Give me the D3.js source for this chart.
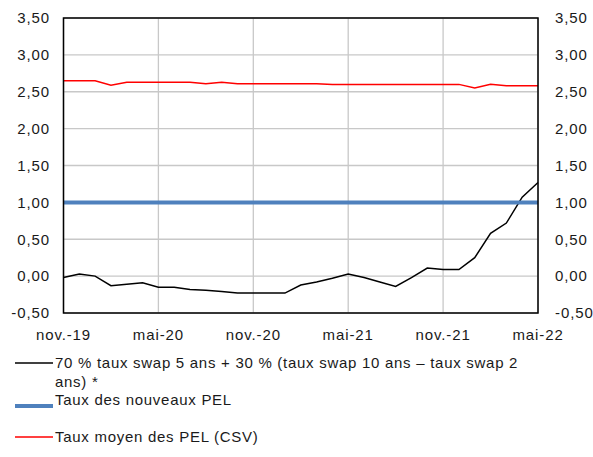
<!DOCTYPE html>
<html><head><meta charset="utf-8">
<script src="https://cdn.jsdelivr.net/npm/d3@7"></script>
<style>
html,body{margin:0;padding:0;background:#fff;}
text{font-family:"Liberation Sans",Arial,sans-serif;}
</style></head>
<body>
<svg id="c" width="593" height="457"></svg>
<script>
const months = ["nov.-19","déc.-19","janv.-20","févr.-20","mars-20","avr.-20","mai-20","juin-20","juil.-20","août-20","sept.-20","oct.-20","nov.-20","déc.-20","janv.-21","févr.-21","mars-21","avr.-21","mai-21","juin-21","juil.-21","août-21","sept.-21","oct.-21","nov.-21","déc.-21","janv.-22","févr.-22","mars-22","avr.-22","mai-22"];
const swapSeries = [-0.02,0.03,0.00,-0.13,-0.11,-0.09,-0.15,-0.15,-0.18,-0.19,-0.21,-0.23,-0.23,-0.23,-0.23,-0.12,-0.08,-0.03,0.03,-0.02,-0.08,-0.14,-0.02,0.11,0.09,0.09,0.25,0.58,0.72,1.07,1.27];
const newPelSeries = [1,1,1,1,1,1,1,1,1,1,1,1,1,1,1,1,1,1,1,1,1,1,1,1,1,1,1,1,1,1,1];
const avgPelSeries = [2.65,2.65,2.65,2.59,2.63,2.63,2.63,2.63,2.63,2.61,2.63,2.61,2.61,2.61,2.61,2.61,2.61,2.60,2.60,2.60,2.60,2.60,2.60,2.60,2.60,2.60,2.55,2.60,2.58,2.58,2.58];
const xTickLabels = ["nov.-19","mai-20","nov.-20","mai-21","nov.-21","mai-22"];
const yTicks = [-0.5,0,0.5,1,1.5,2,2.5,3,3.5];
const legendLabels = [["70 % taux swap 5 ans + 30 % (taux swap 10 ans – taux swap 2","ans) *"],["Taux des nouveaux PEL"],["Taux moyen des PEL (CSV)"]];

const svg = d3.select("#c");
const L = 63.5, R = 538, T = 18, B = 313;
const x = d3.scaleLinear().domain([0, months.length-1]).range([L, R]);
const y = d3.scaleLinear().domain([-0.5, 3.5]).range([B, T]);
const fmt = v => d3.format(".2f")(v).replace(".", ",").replace("−","-");

// grid
svg.append("g").selectAll("line").data(yTicks).join("line")
  .attr("x1", L).attr("x2", R).attr("y1", d=>y(d)).attr("y2", d=>y(d))
  .attr("stroke","#c8c8c8").attr("stroke-width",1.3);
const xTickIdx = xTickLabels.map(l => months.indexOf(l));
svg.append("g").selectAll("line").data(xTickIdx).join("line")
  .attr("x1", d=>x(d)).attr("x2", d=>x(d)).attr("y1", T).attr("y2", B)
  .attr("stroke","#c8c8c8").attr("stroke-width",1.3);

// axes labels
const lblStyle = s => s.attr("font-size",15).attr("letter-spacing","0.9px").attr("fill","#1a1a1a");
svg.append("g").selectAll("text").data(yTicks).join("text")
  .attr("x", 50).attr("y", d=>y(d)).attr("dy","0.35em").attr("text-anchor","end")
  .text(fmt).call(lblStyle);
svg.append("g").selectAll("text").data(yTicks).join("text")
  .attr("x", 555).attr("y", d=>y(d)).attr("dy","0.35em").attr("text-anchor","start")
  .text(fmt).call(lblStyle);
svg.append("g").selectAll("text").data(xTickIdx).join("text")
  .attr("x", d=>x(d)).attr("y", 335).attr("dy","0.35em").attr("text-anchor","middle")
  .text((d,i)=>xTickLabels[i]).call(lblStyle);

// lines
const line = d3.line().x((d,i)=>x(i)).y(d=>y(d));
svg.append("path").datum(avgPelSeries).attr("d", line).attr("fill","none").attr("stroke","#ff0000").attr("stroke-width",1.5);
svg.append("path").datum(swapSeries).attr("d", line).attr("fill","none").attr("stroke","#000").attr("stroke-width",1.5);
svg.append("path").datum(newPelSeries).attr("d", line).attr("fill","none").attr("stroke","#4f81bd").attr("stroke-width",4);

// frame
svg.append("rect").attr("x",L).attr("y",T).attr("width",R-L).attr("height",B-T)
  .attr("fill","none").attr("stroke","#000").attr("stroke-width",1.5);

// legend
const legColors = ["#000","#4f81bd","#ff0000"];
const legWidths = [1.3,4,1.3];
const legY = [363, 406, 437];
const textY = [363, 400, 437];
const lg = svg.append("g");
legendLabels.forEach((lines,i)=>{
  lg.append("line").attr("x1",15).attr("x2",53).attr("y1",legY[i]).attr("y2",legY[i])
    .attr("stroke",legColors[i]).attr("stroke-width",legWidths[i]);
  const t = lg.append("text").attr("x",55).attr("y",textY[i])
    .attr("font-size",15).attr("letter-spacing","0.72px").attr("fill","#1a1a1a");
  lines.forEach((s,j)=>t.append("tspan").attr("x",55).attr("dy", j===0?"0.35em":"18.5").text(s));
});
</script>
</body></html>
